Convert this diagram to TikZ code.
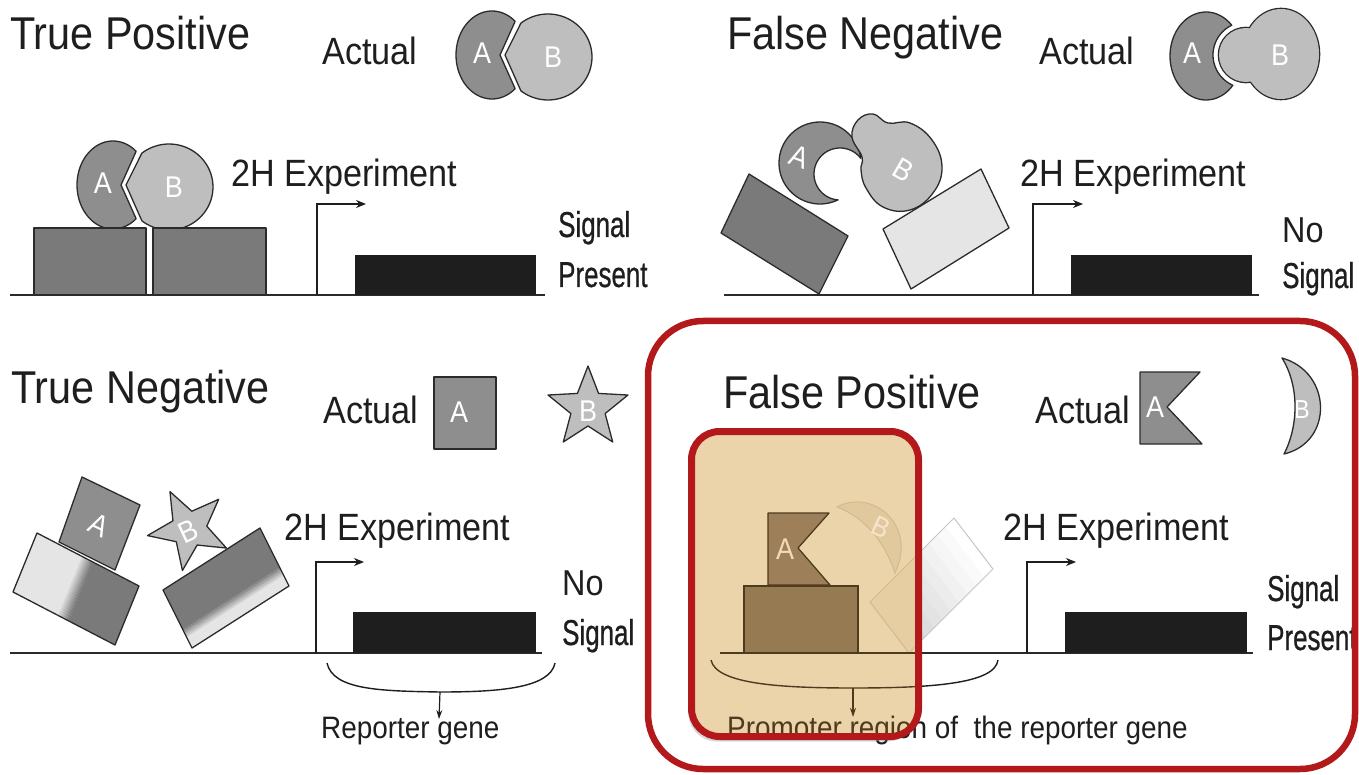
\documentclass[tikz,border=0pt]{standalone}
\usepackage{fontspec}
\setmainfont{Liberation Sans}[FakeStretch=0.9]
\newfontfamily\narrowfont{Liberation Sans}[FakeStretch=0.72,FakeBold=0.6]
\usetikzlibrary{arrows.meta,shadows}

\definecolor{ink}{HTML}{1E1E1E}
\definecolor{lineclr}{HTML}{2B2B2B}
\definecolor{gA}{HTML}{8E8E8E}
\definecolor{gB}{HTML}{BEBEBE}
\definecolor{gBlock}{HTML}{7A7A7A}
\definecolor{gLight}{HTML}{E5E5E5}
\definecolor{redc}{HTML}{B3181B}
\definecolor{tanc}{HTML}{ECD4AA}
\definecolor{tanShape}{HTML}{E2C89D}
\definecolor{tanEdge}{HTML}{D3B98E}
\definecolor{brownBox}{HTML}{967A52}
\definecolor{brownFlag}{HTML}{9D8059}
\definecolor{brownLine}{HTML}{4E3A1E}
\definecolor{faintEdge}{HTML}{C6C6C6}
\definecolor{faintFill}{HTML}{D4D4D4}

\tikzset{
  title/.style={anchor=base west, inner sep=0pt, text=ink, font=\fontsize{46}{50}\selectfont},
  lbl/.style={anchor=base west, inner sep=0pt, text=ink, font=\fontsize{38}{42}\selectfont},
  nolbl/.style={anchor=base west, inner sep=0pt, text=ink, font=\fontsize{36}{40}\selectfont},
  narrowlbl/.style={anchor=base west, inner sep=0pt, text=ink, font=\narrowfont\fontsize{36}{40}\selectfont},
  smalllbl/.style={anchor=base west, inner sep=0pt, text=ink, font=\fontsize{31}{34}\selectfont},
  letter/.style={inner sep=0pt, text=white, font=\fontsize{30}{30}\selectfont},
  outl/.style={draw=lineclr, line width=1.3pt, line join=round},
  shapeA/.style={outl, fill=gA},
  shapeB/.style={outl, fill=gB},
  block/.style={outl, fill=gBlock},
  lightblock/.style={outl, fill=gLight},
  ground/.style={draw=lineclr, line width=1.6pt},
  reporter/.style={fill=ink},
  promoter/.style={draw=ink, line width=1.2pt, -{Stealth[length=10pt,width=8pt]}},
  brace/.style={draw=ink, line width=1.4pt},
  pointer/.style={draw=ink, line width=1.2pt, -{Stealth[length=9pt,width=6pt]}},
  % A with a V-shaped mouth and B with the matching wedge
  abpair/.pic={
    \path[shapeA] plot[domain=50:310,samples=60] ({36*cos(\x)},{44*sin(\x)}) -- (8,0) -- cycle;
    \path[shapeB] plot[domain=232:488,samples=60] ({56+44*cos(\x)},{2+43*sin(\x)}) -- (13,0) -- cycle;
    \node[letter] (-A) at (-10,-2) {A};
    \node[letter] (-B) at (61,2) {B};
  },
  % five-pointed star, argument = angular offset
  bstar/.pic={
    \path[shapeB] ({#1+270}:42) -- ({#1+306}:18) -- ({#1+342}:42) -- ({#1+18}:18)
      -- ({#1+54}:42) -- ({#1+90}:18) -- ({#1+126}:42) -- ({#1+162}:18)
      -- ({#1+198}:42) -- ({#1+234}:18) -- cycle;
  },
}

\begin{document}
\begin{tikzpicture}[x=1pt,y=-1pt]
\fill[white] (0,0) rectangle (1359,775);
\useasboundingbox (0,0) rectangle (1359,775);

% ================= True Positive =================
\node[title] (tpTitle) at (10,50) {True Positive};
\node[lbl] (tpActual) at (322,65) {Actual};
\pic (tpPair) at (492,55) {abpair};
\pic (tpBound) at (113,185) {abpair};
\path[block] (34,228) rectangle (146,295);
\path[block] (153,228) rectangle (266,295);
\draw[ground] (10,295) -- (545,295);
\coordinate (tpP0) at (317,295);
\coordinate (tpP1) at (366,204);
\draw[promoter] (tpP0) |- (tpP1);
\path[reporter] (355,255) rectangle (536,295);
\node[lbl] (tpExp) at (231,187) {2H Experiment};
\node[narrowlbl] (tpSig) at (558,237) {Signal};
\node[narrowlbl] (tpPres) at (558,287) {Present};

% ================= False Negative =================
\node[title] (fnTitle) at (727,50) {False Negative};
\node[lbl] (fnActual) at (1039,65) {Actual};
% B: small lobe + large body as one outlined shape
\draw[lineclr, line width=2.6pt] (1246,55) circle[radius=27];
\draw[lineclr, line width=2.6pt] (1281,54) ellipse[x radius=38, y radius=45];
\fill[gB] (1246,55) circle[radius=27];
\fill[gB] (1281,54) ellipse[x radius=38, y radius=45];
% A: crescent wrapped around the lobe of B
\path[shapeA] plot[domain=41.8:315.2,samples=60] ({1206+36*cos(\x)},{56+44*sin(\x)})
  -- plot[domain=0:1,samples=40] ({1246+33*cos(244.4-130.9*\x)},{55+33*sin(244.4-130.9*\x)}) -- cycle;
\node[letter] (fnA) at (1192,53) {A};
\node[letter] (fnB) at (1280,55) {B};

\path[block] (749,174) -- (848,236) -- (819,294) -- (721,233) -- cycle;
\path[lightblock] (883,229) -- (981,169) -- (1009,228) -- (911,289) -- cycle;
\path[shapeA] plot[domain=63.9:353.6,samples=60] ({820+41*cos(\x)},{163+41*sin(\x)})
  -- plot[domain=0:1,samples=50] ({840+26*cos(323.1-228.7*\x)},{174+26*sin(323.1-228.7*\x)}) -- cycle;
\path[shapeB] plot[smooth cycle, tension=0.7] coordinates {
  (862,157) (852,137) (858,120) (873,114) (888,123) (910,123) (932,140)
  (942,167) (933,193) (910,210) (883,207) (866,188) (861,170)};
\node[letter, rotate=-20] (fnA2) at (799,157) {A};
\node[letter, rotate=-30] (fnB2) at (903,170) {B};
\draw[ground] (724,295) -- (1259,295);
\coordinate (fnP0) at (1033,295);
\coordinate (fnP1) at (1083,204);
\draw[promoter] (fnP0) |- (fnP1);
\path[reporter] (1071,255) rectangle (1252,295);
\node[lbl] (fnExp) at (1020,187) {2H Experiment};
\node[nolbl] (fnNo) at (1282,243) {No};
\node[narrowlbl] (fnSig) at (1282,288) {Signal};

% ================= True Negative =================
\node[title] (tnTitle) at (11,403) {True Negative};
\node[lbl] (tnActual) at (323,423) {Actual};
\path[shapeA] (434,377) rectangle (496,449);
\node[letter] (tnA) at (459,412) {A};
\pic (tnStar) at (588,408) {bstar=0};
\node[letter] (tnB) at (588,411) {B};

% tilted A resting on a two-tone bait block
\path[shapeA] (82,477) -- (140,505) -- (115,570) -- (59,542) -- cycle;
\node[letter, rotate=-26] (tnA2) at (99,525) {A};
\begin{scope}[shift={(37pt,-533pt)}, x={(102pt,-53pt)}, y={(-24pt,-59pt)}]
  \fill[gLight] (0,0) -- (0.43,0) -- (0.43,1) -- (0,1) -- cycle;
  \fill[gBlock] (0.55,0) -- (1,0) -- (1,1) -- (0.55,1) -- cycle;
  \foreach \i in {0,...,11} {
    \pgfmathsetmacro\ta{0.43+\i*0.01}
    \pgfmathsetmacro\tb{\ta+0.0115}
    \pgfmathtruncatemacro\pc{100-\i*100/11}
    \fill[gLight!\pc!gBlock] (\ta,0) -- (\tb,0) -- (\tb,1) -- (\ta,1) -- cycle;
  }
  \draw[outl] (0,0) -- (1,0) -- (1,1) -- (0,1) -- cycle;
\end{scope}
% star B on a two-tone prey block
\pic (tnStar2) at (189,529) {bstar=-27};
\node[letter, rotate=25] (tnB2) at (188,531) {B};
\begin{scope}[shift={(163pt,-590pt)}, x={(97pt,62pt)}, y={(29pt,-58pt)}]
  \fill[gBlock] (0,0) -- (1,0) -- (1,0.68) -- (0,0.68) -- cycle;
  \fill[gLight] (0,0.84) -- (1,0.84) -- (1,1) -- (0,1) -- cycle;
  \foreach \i in {0,...,15} {
    \pgfmathsetmacro\ta{0.68+\i*0.01}
    \pgfmathsetmacro\tb{\ta+0.0115}
    \pgfmathtruncatemacro\pc{100-\i*100/15}
    \fill[gBlock!\pc!gLight] (0,\ta) -- (1,\ta) -- (1,\tb) -- (0,\tb) -- cycle;
  }
  \draw[outl] (0,0) -- (1,0) -- (1,1) -- (0,1) -- cycle;
\end{scope}
\draw[ground] (10,653) -- (542,653);
\coordinate (tnP0) at (316,653);
\coordinate (tnP1) at (364,562);
\draw[promoter] (tnP0) |- (tnP1);
\path[reporter] (353,612) rectangle (536,653);
\node[lbl] (tnExp) at (284,540) {2H Experiment};
\node[nolbl] (tnNo) at (562,595) {No};
\node[narrowlbl] (tnSig) at (562,645) {Signal};
\coordinate (tnBraceL) at (327,663);
\coordinate (tnBraceM) at (440,692);
\coordinate (tnBraceR) at (555,663);
\draw[brace] (tnBraceL) .. controls (333,690) and (380,691) .. (tnBraceM)
  .. controls (500,692) and (550,688) .. (tnBraceR);
\coordinate (tnPtr) at (439,719);
\draw[pointer] (tnBraceM) -- (tnPtr);
\node[smalllbl] (tnRep) at (321,738) {Reporter gene};

% ================= False Positive =================
\node[title] (fpTitle) at (723,408) {False Positive};
\node[lbl] (fpActual) at (1035,423) {Actual};
\path[shapeA] (1140,372) -- (1200,372) -- (1167,407) -- (1202,444) -- (1140,444) -- cycle;
\node[letter] (fpA) at (1155,407) {A};
\path[shapeB] (1282,358) .. controls (1332,372) and (1334,442) .. (1284,454)
  .. controls (1299,425) and (1299,385) .. cycle;
\node[letter, font=\fontsize{26}{26}\selectfont] (fpB) at (1302,410) {B};

% faint prey block (outside view)
\begin{scope}[shift={(870pt,-602pt)}, x={(84pt,84pt)}, y={(39pt,-51pt)}]
  \foreach \i in {0,...,9} {
    \pgfmathsetmacro\ta{\i*0.1}
    \pgfmathsetmacro\tb{\ta+0.105}
    \pgfmathtruncatemacro\pc{100-\i*100/9}
    \fill[faintFill!\pc!white] (\ta,0) -- (\tb,0) -- (\tb,1) -- (\ta,1) -- cycle;
  }
  \draw[faintEdge, line width=1pt, line join=round] (0,0) -- (1,0) -- (1,1) -- (0,1) -- cycle;
\end{scope}
\draw[ground] (720,653) -- (1253,653);
\coordinate (fpP0) at (1027,653);
\coordinate (fpP1) at (1076,562);
\draw[promoter] (fpP0) |- (fpP1);
\path[reporter] (1065,612) rectangle (1247,653);
\node[lbl] (fpExp) at (1003,540) {2H Experiment};
\node[narrowlbl] (fpSig) at (1267,601) {Signal};
\node[narrowlbl] (fpPres) at (1267,650) {Present};
\coordinate (fpBraceL) at (711,660);
\coordinate (fpBraceM) at (853,688);
\coordinate (fpBraceR) at (998,660);
\draw[brace] (fpBraceL) .. controls (716,684) and (780,688) .. (fpBraceM)
  .. controls (930,688) and (995,684) .. (fpBraceR);
\coordinate (fpPtr) at (853,717);
\draw[pointer] (fpBraceM) -- (fpPtr);
\node[smalllbl] (fpProm) at (727,738) {Promoter region of\ \ the reporter gene};

% highlighted bait region
\fill[tanc, rounded corners=28pt, drop shadow={shadow xshift=-3pt, shadow yshift=-5pt, opacity=0.3}]
  (691.5,431.5) rectangle (918.5,736.5);
\begin{scope}
  \clip[rounded corners=28pt] (691.5,431.5) rectangle (918.5,736.5);
  \begin{scope}[shift={(870pt,-602pt)}, x={(84pt,84pt)}, y={(39pt,-51pt)}]
    \fill[tanShape!60!tanc] (0,0) -- (1,0) -- (1,1) -- (0,1) -- cycle;
    \draw[tanEdge, line width=1pt, line join=round] (0,0) -- (1,0) -- (1,1) -- (0,1) -- cycle;
  \end{scope}
  \path[draw=tanEdge, fill=tanShape, line width=1pt] (837,507) .. controls (872,488) and (918,525) .. (895,573)
    .. controls (885,543) and (866,518) .. cycle;
  \node[letter, text=tanc!60!white, rotate=-25, font=\fontsize{28}{28}\selectfont] (fpBfaint) at (881,527) {B};
  \path[draw=brownLine, fill=brownBox, line width=1.3pt] (744,586) rectangle (858,653);
  \path[draw=brownLine, fill=brownFlag, line width=1.3pt, line join=round]
    (768,513) -- (829,513) -- (798,548) -- (830,585) -- (768,585) -- cycle;
  \node[letter, text=tanc!85!white] (fpA2) at (785,549) {A};
  \draw[brownLine, line width=1.6pt] (720,653) -- (922,653);
  \draw[brace, draw=brownLine] (fpBraceL) .. controls (716,684) and (780,688) .. (fpBraceM)
    .. controls (930,688) and (995,684) .. (fpBraceR);
  \draw[pointer, draw=brownLine] (fpBraceM) -- (fpPtr);
  \node[smalllbl, text=brownLine] (fpPromIn) at (727,738) {Promoter region of\ \ the reporter gene};
\end{scope}
\draw[redc, line width=7pt, rounded corners=28pt] (691.5,431.5) rectangle (918.5,736.5);

% frame around the false-positive case
\draw[redc, line width=6.5pt, rounded corners=55pt] (648,321) rectangle (1355,769);
\end{tikzpicture}
\end{document}
